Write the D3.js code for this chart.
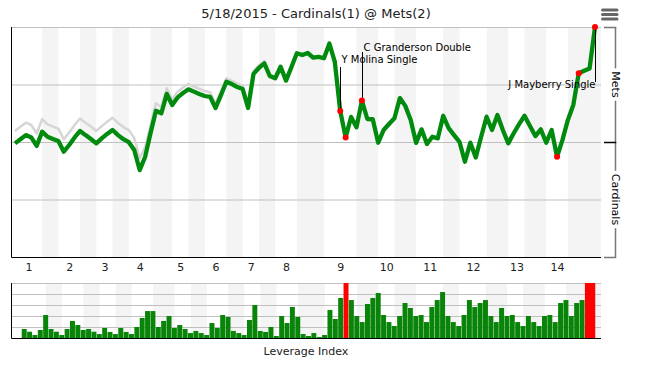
<!DOCTYPE html>
<html lang="en">
<head>
<meta charset="UTF-8" />
<title>5/18/2015 - Cardinals(1) @ Mets(2)</title>
<script src="https://d3js.org/d3.v7.min.js"></script>
<style>
  body { margin: 0; padding: 0; background: #fff; }
  svg { display: block; font-family: 'DejaVu Sans', sans-serif; }
</style>
</head>
<body>
<svg id="chart" width="645" height="371"></svg>
<script>
  // Mets win expectancy (%) after each play, play 0 = first pitch
  const winExp = [
    49.4, 51.2, 53.0, 52.0, 48.3, 54.5, 52.3, 51.3, 50.4, 45.8,
    48.7, 52.0, 54.8, 53.0, 51.3, 49.4, 51.6, 53.5, 55.2, 53.0,
    51.2, 49.9, 46.5, 37.8, 43.5, 53.8, 63.6, 62.5, 70.9, 66.1,
    69.4, 71.3, 72.9, 71.9, 70.9, 70.0, 69.6, 64.8, 70.4, 76.2,
    75.2, 73.9, 73.0, 64.8, 79.6, 82.2, 84.2, 78.7, 77.7, 82.7,
    76.7, 82.6, 88.6, 87.8, 88.7, 86.7, 87.0, 86.4, 92.8, 84.8,
    63.5, 52.0, 60.9, 56.4, 68.0, 60.0, 59.9, 49.7, 55.2, 57.8,
    60.3, 69.1, 65.7, 59.6, 49.6, 55.5, 49.1, 52.3, 51.6, 61.4,
    56.0, 53.0, 50.1, 41.4, 49.7, 43.3, 52.3, 61.0, 55.2, 61.7,
    55.2, 49.4, 53.8, 57.8, 61.4, 57.0, 52.6, 55.5, 49.7, 55.2,
    43.6, 50.9, 59.6, 66.1, 79.9, 81.0, 82.0, 100
  ];

  // light grey comparison line, only visible in the early innings
  const shadowExp = [
    54.8, 56.6, 58.4, 57.4, 53.7, 59.9, 57.7, 56.7, 55.8, 51.2,
    54.1, 57.4, 60.2, 58.4, 56.7, 54.8, 56.9, 58.8, 60.5, 58.3,
    56.5, 55.2, 51.7, 42.8, 47.8, 57.3, 66.9, 65.1, 73.4, 68.6,
    71.9, 73.7, 75.3, 74.1, 73.1, 72.2, 71.6, 66.8, 72.2, 77.7,
    76.7, 75.4, 74.4, 66.2, 80.9, 83.4, 85.2, 79.3, 78.0
  ];

  // leverage index of plays 1..107
  const leverage = [
    0.82, 0.57, 0.27, 0.73, 2.09, 0.82, 0.57, 0.27, 0.82, 1.55,
    1.18, 0.73, 0.82, 0.57, 0.36, 0.91, 0.55, 0.36, 0.91, 0.55,
    0.36, 1.00, 1.82, 2.45, 2.45, 1.00, 1.55, 2.00, 0.91, 1.18,
    0.82, 0.45, 0.64, 0.45, 0.27, 1.36, 0.91, 2.09, 1.91, 0.64,
    0.45, 0.27, 1.64, 3.00, 0.64, 0.55, 1.00, 0.18, 2.00, 1.36,
    2.82, 1.91, 0.36, 0.18, 0.45, 0.09, 0.27, 2.55, 1.73, 3.64,
    6.20, 3.45, 2.00, 1.45, 3.09, 3.64, 4.09, 2.09, 1.45, 1.09,
    2.00, 3.18, 2.73, 2.00, 2.09, 1.45, 2.82, 3.45, 4.18, 2.00,
    1.45, 1.09, 2.09, 3.45, 2.82, 3.18, 3.45, 2.00, 1.45, 2.73,
    2.00, 2.09, 1.45, 1.09, 2.00, 1.45, 1.09, 2.00, 2.09, 1.45,
    3.18, 3.45, 2.00, 3.18, 3.45, 5.90, 7.40
  ];

  // first play of each half inning: top 1, bottom 1, top 2, ...
  const halfStarts = [0, 5, 8, 12, 15, 18, 21, 25, 29, 32, 35, 39, 42, 45,
                      48, 52, 57, 63, 67, 70, 74, 79, 82, 87, 91, 94, 98, 102];
  const innings = d3.range(1, 15);

  // plays marked with a red dot
  const highlights = [60, 61, 64, 100, 104, 107];
  const notePlays = [60, 64, 107];
  const noteTexts = ['Y Molina Single', 'C Granderson Double', 'J Mayberry Single'];
  const sideLabels = ['Mets', 'Cardinals'];
  const title = '5/18/2015 - Cardinals(1) @ Mets(2)';

  const svg = d3.select('#chart');
  const plot = { left: 11, right: 601, top: 27, bottom: 257 };
  const lev = { top: 283, bottom: 338 };
  const nPlays = winExp.length - 1;

  const x = d3.scaleLinear().domain([0, nPlays]).range([15, 595]);
  const y = d3.scaleLinear().domain([0, 100]).range([plot.bottom, plot.top]);
  const xb = d3.scaleLinear().domain([-1.5, nPlays + 1.5]).range([plot.left, plot.right]);
  const yb = d3.scaleLinear().domain([0, 5]).range([lev.bottom, lev.top]);

  // bottom halves get the grey band
  const bands = [];
  for (let i = 1; i < halfStarts.length; i += 2) {
    bands.push([halfStarts[i], i + 1 < halfStarts.length ? halfStarts[i + 1] : null]);
  }

  const bandFill = '#f4f4f4';
  const gridColor = '#c0c0c0';

  // ---- main chart ----
  svg.append('g').selectAll('rect')
    .data(bands)
    .enter().append('rect')
    .attr('x', d => x(d[0]))
    .attr('y', plot.top)
    .attr('width', d => (d[1] === null ? plot.right : x(d[1])) - x(d[0]))
    .attr('height', plot.bottom - plot.top)
    .attr('fill', bandFill);

  svg.append('g')
    .attr('transform', `translate(${plot.left},0)`)
    .call(d3.axisLeft(y).tickValues([25, 50, 75, 100]).tickSize(-(plot.right - plot.left)).tickFormat(''))
    .call(g => g.select('.domain').remove())
    .call(g => g.selectAll('line').attr('stroke', gridColor));

  // inning numbers under the top half of each inning
  const mids = innings.map((n, i) => (halfStarts[2 * i] + halfStarts[2 * i + 1]) / 2);
  svg.append('g')
    .attr('transform', `translate(0,${plot.bottom})`)
    .call(d3.axisBottom(x).tickValues(mids).tickSize(0).tickPadding(6).tickFormat((d, i) => innings[i]))
    .call(g => g.select('.domain').remove())
    .call(g => g.selectAll('text').attr('font-size', 11).attr('font-family', 'DejaVu Sans').attr('fill', '#222'));

  svg.append('path')
    .attr('d', `M${plot.left + 0.5},${plot.top}V${plot.bottom + 0.5}H${plot.right}`)
    .attr('fill', 'none')
    .attr('stroke', '#000')
    .attr('stroke-width', 1);

  const line = d3.line().x((d, i) => x(i)).y(d => y(d));

  svg.append('path')
    .datum(shadowExp)
    .attr('d', line)
    .attr('fill', 'none')
    .attr('stroke', '#d6d6d6')
    .attr('stroke-width', 2.5)
    .attr('stroke-linejoin', 'round');

  svg.append('path')
    .datum(winExp)
    .attr('d', line)
    .attr('fill', 'none')
    .attr('stroke', '#008a0e')
    .attr('stroke-width', 4.3)
    .attr('stroke-linejoin', 'round');

  // annotation connectors and labels
  const noteLayout = [
    { top: 67, tx: 1, ty: 62.5, anchor: 'start' },
    { top: 52, tx: 1, ty: 51, anchor: 'start' },
    { top: 27, bottom: 82, tx: 0, ty: 88, anchor: 'end' }
  ];
  const notes = svg.append('g');
  notePlays.forEach((p, i) => {
    const L = noteLayout[i];
    const px = Math.round(x(p)) + 0.5;
    notes.append('line')
      .attr('x1', px).attr('x2', px)
      .attr('y1', L.top)
      .attr('y2', L.bottom !== undefined ? L.bottom : y(winExp[p]))
      .attr('stroke', '#000')
      .attr('stroke-width', 1);
    notes.append('text')
      .attr('x', px + L.tx)
      .attr('y', L.ty)
      .attr('text-anchor', L.anchor)
      .attr('font-size', 10)
      .attr('fill', '#000')
      .text(noteTexts[i]);
  });

  svg.append('g').selectAll('circle')
    .data(highlights)
    .enter().append('circle')
    .attr('cx', d => x(d))
    .attr('cy', d => y(winExp[d]))
    .attr('r', 3)
    .attr('fill', '#ff0000');

  // right side bracket: Mets above, Cardinals below
  const bx = 615.5;
  const sideY = [y(75), y(25)];
  const sideLen = [];
  sideLabels.forEach((t, i) => {
    const txt = svg.append('text')
      .attr('transform', `translate(${bx},${sideY[i]}) rotate(90)`)
      .attr('text-anchor', 'middle')
      .attr('dominant-baseline', 'central')
      .attr('font-size', 11)
      .attr('fill', '#000')
      .text(t);
    sideLen.push(txt.node().getComputedTextLength());
  });
  const segs = [
    [plot.top, sideY[0] - sideLen[0] / 2 - 3],
    [sideY[0] + sideLen[0] / 2 + 3, sideY[1] - sideLen[1] / 2 - 3],
    [sideY[1] + sideLen[1] / 2 + 3, plot.bottom]
  ];
  svg.append('g').selectAll('line')
    .data(segs)
    .enter().append('line')
    .attr('x1', bx).attr('x2', bx)
    .attr('y1', d => d[0]).attr('y2', d => d[1])
    .attr('stroke', '#777')
    .attr('stroke-width', 1.5);
  svg.append('g').selectAll('line')
    .data([100, 50, 0])
    .enter().append('line')
    .attr('x1', 604).attr('x2', bx + 0.75)
    .attr('y1', d => Math.round(y(d)) + 0.5).attr('y2', d => Math.round(y(d)) + 0.5)
    .attr('stroke', d => d === 50 ? '#000' : '#777')
    .attr('stroke-width', 1.5);

  // ---- leverage chart ----
  svg.append('g').selectAll('rect')
    .data(bands)
    .enter().append('rect')
    .attr('x', d => xb(d[0]))
    .attr('y', lev.top)
    .attr('width', d => (d[1] === null ? plot.right : xb(d[1])) - xb(d[0]))
    .attr('height', lev.bottom - lev.top)
    .attr('fill', bandFill);

  svg.append('g')
    .attr('transform', `translate(${plot.left},0)`)
    .call(d3.axisLeft(yb).tickValues([1, 2, 3, 4, 5]).tickSize(-(plot.right - plot.left)).tickFormat(''))
    .call(g => g.select('.domain').remove())
    .call(g => g.selectAll('line').attr('stroke', gridColor));

  // red when the leverage runs off the top of the scale
  const barStep = xb(1) - xb(0);
  const capped = d => d >= 5;
  svg.append('g').selectAll('rect')
    .data(leverage)
    .enter().append('rect')
    .attr('x', (d, i) => xb(i + 1) - barStep / 2)
    .attr('y', d => yb(Math.min(d, 5)))
    .attr('width', (d, i) => capped(d) && capped(leverage[i + 1]) ? barStep + 1 : barStep - 0.4)
    .attr('height', d => lev.bottom - yb(Math.min(d, 5)))
    .attr('fill', d => capped(d) ? '#ff0000' : '#088508');

  svg.append('path')
    .attr('d', `M${plot.left + 0.5},${lev.top}V${lev.bottom + 0.5}H${plot.right}`)
    .attr('fill', 'none')
    .attr('stroke', '#000')
    .attr('stroke-width', 1);

  svg.append('text')
    .attr('x', 306)
    .attr('y', 355)
    .attr('text-anchor', 'middle')
    .attr('font-size', 11)
    .attr('fill', '#222')
    .text('Leverage Index');

  // ---- title and menu icon ----
  svg.append('text')
    .attr('x', 316)
    .attr('y', 18)
    .attr('text-anchor', 'middle')
    .attr('font-size', 13)
    .attr('fill', '#222')
    .text(title);

  svg.append('g').selectAll('line')
    .data([10, 14.5, 19])
    .enter().append('line')
    .attr('x1', 602.5).attr('x2', 617)
    .attr('y1', d => d).attr('y2', d => d)
    .attr('stroke', '#666')
    .attr('stroke-width', 3)
    .attr('stroke-linecap', 'round');
</script>
</body>
</html>
